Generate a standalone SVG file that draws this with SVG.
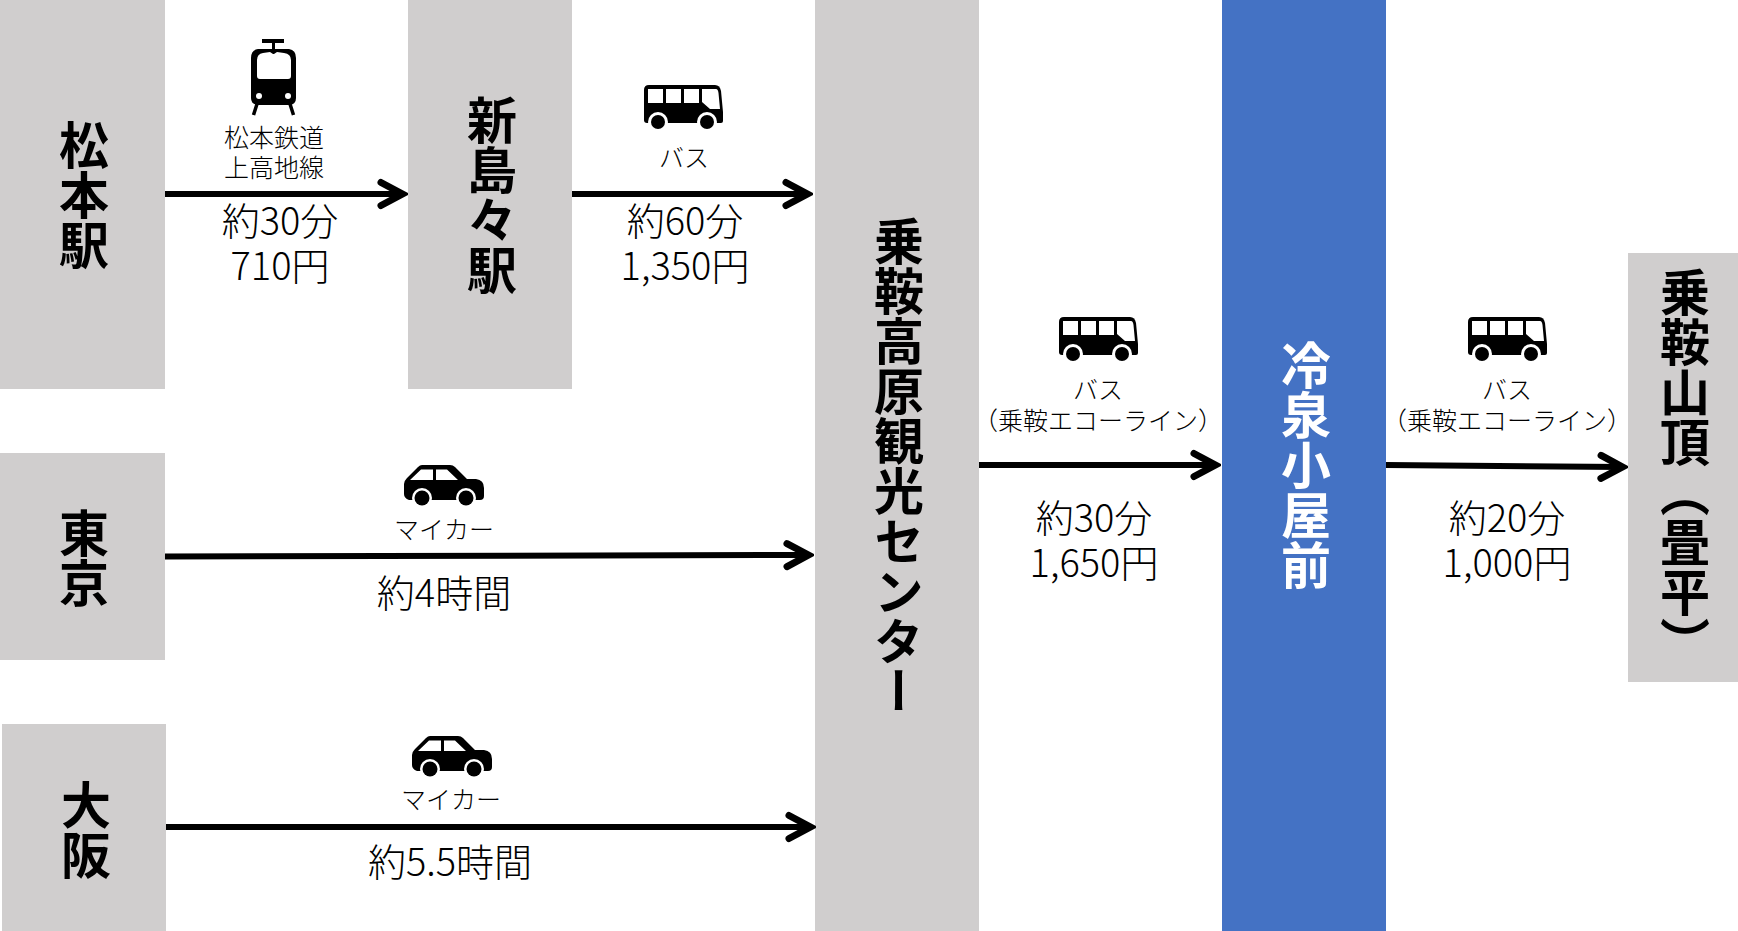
<svg xmlns="http://www.w3.org/2000/svg" width="1738" height="931" viewBox="0 0 1738 931">
<style>
text{font-family:"Noto Sans CJK JP","Noto Sans JP",sans-serif;fill:#000}
.box{fill:#D0CECE}
.v{font-size:50px;font-weight:700;writing-mode:vertical-rl;text-anchor:start}
.s{font-size:25px;font-weight:200;text-anchor:middle}
.b{font-size:38px;font-weight:200;text-anchor:middle}
.p{font-feature-settings:"halt"}
.c{fill:none;stroke:#000;stroke-width:6;marker-end:url(#a)}
</style>
<defs>
<marker id="a" markerUnits="userSpaceOnUse" markerWidth="34" markerHeight="34" viewBox="0 0 34 34" refX="30" refY="17" orient="auto">
<path d="M7 5.500L28.500 17L7 28.500" fill="none" stroke="#000" stroke-width="7" stroke-linecap="round"/>
</marker>
<g id="bus">
<path d="M5 0H71Q76 0 77 6L79 27V36Q79 38 77 38H3Q0 38 0 35V5Q0 0 5 0Z" fill="#000"/>
<path d="M4 4H19V18H4ZM22 4H37V18H22ZM40 4H55V18H40ZM58 4H72Q74 4 74.500 8L76 24H66L58 17Z" fill="#fff"/>
<circle cx="14" cy="37" r="10" fill="#fff"/><circle cx="63" cy="37" r="10" fill="#fff"/>
<circle cx="14" cy="37" r="7" fill="#000"/><circle cx="63" cy="37" r="7" fill="#000"/>
</g>
<g id="car">
<path d="M18 0H46Q49 0 51 2L63 14H72Q80 15 80 23V31Q80 35 76 35H5Q0 33 0 29V19Q0 16 3 13L14 2Q16 0 18 0Z" fill="#000"/>
<path d="M6 15L17 4.500H29V15ZM32 4.500H43L54 15H32Z" fill="#fff"/>
<circle cx="18" cy="33" r="10" fill="#fff"/><circle cx="62" cy="33" r="10" fill="#fff"/>
<circle cx="18" cy="33" r="7.500" fill="#000"/><circle cx="62" cy="33" r="7.500" fill="#000"/>
</g>
</defs>
<rect width="1738" height="931" fill="#fff"/>
<g id="node-matsumoto"><rect class="box" x="0" y="0" width="165" height="389"/><text class="v" x="84" y="120">松本駅</text></g>
<g id="node-shinshimashima"><rect class="box" x="408" y="0" width="164" height="389"/><text class="v" x="492" y="95">新島々駅</text></g>
<g id="node-tokyo"><rect class="box" x="0" y="453" width="165" height="207"/><text class="v" x="84" y="508">東京</text></g>
<g id="node-osaka"><rect class="box" x="2" y="724" width="164" height="207"/><text class="v" x="86" y="780">大阪</text></g>
<g id="node-kogen"><rect class="box" x="815" y="0" width="164" height="931"/><text class="v" x="899" y="216">乗鞍高原観光センター</text></g>
<g id="node-reisen"><rect x="1222" y="0" width="164" height="931" fill="#4472C4"/><text class="v" x="1306" y="340" style="fill:#fff">冷泉小屋前</text></g>
<g id="node-tatamidaira"><rect class="box" x="1628" y="253" width="110" height="429"/><text class="v" x="1685" y="267">乗鞍山頂（畳平）</text></g>
<g id="connectors">
<path class="c" d="M165 194H404"/>
<path class="c" d="M572 194H809"/>
<path class="c" d="M165 556.500L810 555"/>
<path class="c" d="M166 827H812"/>
<path class="c" d="M979 465H1217"/>
<path class="c" d="M1386 465L1624 467"/>
</g>
<g id="icons">
<g id="icon-train">
<path d="M262 39H284V43H275V49H289Q296 50 296 58V98Q296 104 290 105H257Q251 104 251 98V58Q251 50 258 49H272V43H262Z" fill="#000"/>
<path d="M263 53L270 52L273 54H274L277 52L284 53Q291 54 291 60V76Q291 79 288 79H260Q257 79 257 76V60Q257 54 263 53Z" fill="#fff"/>
<circle cx="259" cy="96" r="3" fill="#fff"/><circle cx="288" cy="96" r="3" fill="#fff"/>
<path d="M257 104L253.500 115M290 104L293.500 115" stroke="#000" stroke-width="3.500" fill="none"/>
</g>
<use href="#bus" x="644" y="85"/>
<use href="#bus" x="1059" y="317"/>
<use href="#bus" x="1468" y="317"/>
<use href="#car" x="404" y="465"/>
<use href="#car" x="412" y="736"/>
</g>
<g id="labels">
<text class="s" x="274" y="147">松本鉄道</text>
<text class="s" x="274" y="177">上高地線</text>
<text class="b" x="280" y="235">約30分</text>
<text class="b" x="280" y="280">710円</text>
<text class="s" x="684" y="167">バス</text>
<text class="b" x="685" y="235">約60分</text>
<text class="b" x="685" y="280">1,350円</text>
<text class="s" x="444" y="539">マイカー</text>
<text class="b" x="444" y="607">約4時間</text>
<text class="s" x="451" y="809">マイカー</text>
<text class="b" x="450" y="876">約5.5時間</text>
<text class="s" x="1098" y="399">バス</text>
<text class="s p" x="1098" y="430">（乗鞍エコーライン）</text>
<text class="b" x="1094" y="532">約30分</text>
<text class="b" x="1094" y="577">1,650円</text>
<text class="s" x="1507" y="399">バス</text>
<text class="s p" x="1507" y="430">（乗鞍エコーライン）</text>
<text class="b" x="1507" y="532">約20分</text>
<text class="b" x="1507" y="577">1,000円</text>
</g>
</svg>
